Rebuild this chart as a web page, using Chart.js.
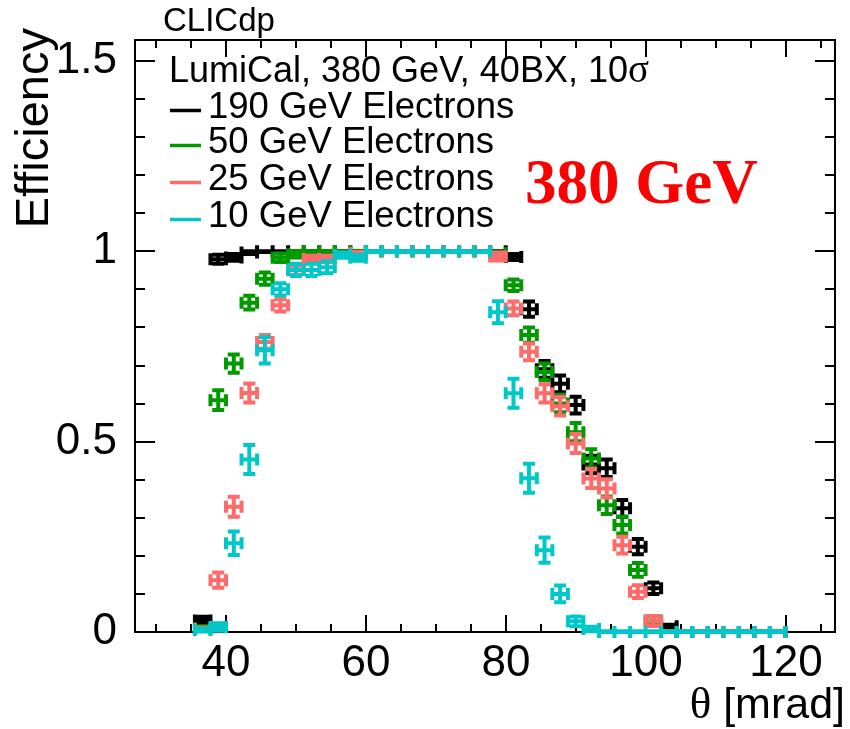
<!DOCTYPE html>
<html>
<head>
<meta charset="utf-8">
<title>LumiCal electron efficiency</title>
<script src="https://cdn.jsdelivr.net/npm/chart.js@4.4.3/dist/chart.umd.min.js"></script>
<style>
  html, body { margin: 0; padding: 0; background: #fff; }
  #wrap { width: 850px; height: 729px; position: relative; }
</style>
</head>
<body>
<div id="wrap"><canvas id="eff"></canvas></div>
<script>
// theta bin centres [mrad], bin width 2.22 mrad
const thetaBins = [36.67, 38.89, 41.11, 43.33, 45.55, 47.77, 49.99, 52.21, 54.43, 56.65,
  58.87, 61.09, 63.31, 65.53, 67.75, 69.97, 72.19, 74.41, 76.63, 78.85,
  81.07, 83.29, 85.51, 87.73, 89.95, 92.17, 94.39, 96.61, 98.83, 101.05,
  103.27, 105.49, 107.71, 109.93, 112.15, 114.37, 116.59, 118.81];
const BIN_HALF = 1.11;

const eff190 = [0.03, 0.979, 0.984, 0.997, 1, 1, 1, 1, 1, 1,
  1, 1, 1, 1, 1, 1, 1, 1, 1, 1,
  0.985, 0.848, 0.69, 0.652, 0.596, 0.44, 0.43, 0.325, 0.224, 0.115,
  0.015, 0, 0, 0, 0, 0, 0, 0];
const err190 = [0.01, 0.012, 0.009, 0.004, 0.002, 0.002, 0.002, 0.002, 0.002, 0.002,
  0.002, 0.002, 0.002, 0.002, 0.002, 0.002, 0.002, 0.002, 0.002, 0.002,
  0.008, 0.02, 0.022, 0.022, 0.022, 0.023, 0.023, 0.022, 0.02, 0.015,
  0.004, 0.002, 0.002, 0.002, 0.002, 0.002, 0.002, 0.002];

const eff50 = [0.01, 0.609, 0.705, 0.865, 0.928, 0.983, 0.992, 1, 1, 1,
  1, 1, 1, 1, 1, 1, 1, 1, 1, 0.995,
  0.911, 0.78, 0.683, 0.6, 0.525, 0.456, 0.333, 0.281, 0.163, 0.03,
  0, 0, 0, 0, 0, 0, 0, 0];
const err50 = [0.005, 0.026, 0.024, 0.018, 0.016, 0.011, 0.008, 0.002, 0.002, 0.002,
  0.002, 0.002, 0.002, 0.002, 0.002, 0.002, 0.002, 0.002, 0.002, 0.004,
  0.015, 0.02, 0.022, 0.023, 0.024, 0.024, 0.023, 0.022, 0.018, 0.012,
  0.002, 0.002, 0.002, 0.002, 0.002, 0.002, 0.002, 0.002];

const eff25 = [0.008, 0.136, 0.329, 0.628, 0.762, 0.858, 0.95, 0.98, 0.98, 0.99,
  0.995, 1, 1, 1, 1, 1, 1, 1, 1, 0.986,
  0.85, 0.736, 0.627, 0.593, 0.495, 0.403, 0.377, 0.228, 0.106, 0.029,
  0, 0, 0, 0, 0, 0, 0, 0];
const err25 = [0.004, 0.02, 0.026, 0.025, 0.018, 0.016, 0.012, 0.008, 0.008, 0.004,
  0.003, 0.002, 0.002, 0.002, 0.002, 0.002, 0.002, 0.002, 0.002, 0.01,
  0.018, 0.022, 0.024, 0.024, 0.025, 0.025, 0.024, 0.022, 0.017, 0.013,
  0.002, 0.002, 0.002, 0.002, 0.002, 0.002, 0.002, 0.002];

const eff10 = [0.005, 0.013, 0.233, 0.453, 0.74, 0.9, 0.951, 0.951, 0.958, 0.99,
  0.983, 1, 1, 1, 1, 1, 1, 1, 1, 0.84,
  0.627, 0.404, 0.215, 0.1, 0.028, 0.008, 0, 0, 0, 0,
  0, 0, 0, 0, 0, 0, 0, 0];
const err10 = [0.004, 0.01, 0.031, 0.038, 0.035, 0.016, 0.016, 0.016, 0.016, 0.007,
  0.008, 0.002, 0.002, 0.002, 0.002, 0.002, 0.002, 0.002, 0.002, 0.029,
  0.038, 0.038, 0.033, 0.022, 0.013, 0.006, 0.002, 0.002, 0.002, 0.002,
  0.002, 0.002, 0.002, 0.002, 0.002, 0.002, 0.002, 0.002];

const seriesLabels = ['190 GeV Electrons', '50 GeV Electrons', '25 GeV Electrons', '10 GeV Electrons'];
const seriesColors = ['#000000', '#009a00', '#ff6b6b', '#00c8c8'];
const seriesEff = [eff190, eff50, eff25, eff10];
const seriesErr = [err190, err50, err25, err10];

const xTickValues = [40, 60, 80, 100, 120];
const yTickValues = [0, 0.5, 1, 1.5];

const SANS = "'Liberation Sans', Arial, Helvetica, sans-serif";
const SERIF = "'Liberation Serif', 'Times New Roman', serif";

const datasets = seriesLabels.map((label, i) => ({
  label: label,
  data: thetaBins.map((t, j) => ({ x: t, y: seriesEff[i][j], err: seriesErr[i][j] })),
  borderColor: seriesColors[i],
  backgroundColor: seriesColors[i],
  pointRadius: 0,
  showLine: false
}));

// frame, inward ticks on all four sides
const rootFrame = {
  id: 'rootFrame',
  beforeDatasetsDraw(chart) {
    const { ctx, chartArea: a, scales: { x, y } } = chart;
    ctx.save();
    ctx.strokeStyle = '#000';
    ctx.lineWidth = 2;
    ctx.strokeRect(a.left, a.top, a.right - a.left, a.bottom - a.top);
    ctx.beginPath();
    for (let v = 30; v <= 125; v += 5) {
      const px = Math.round(x.getPixelForValue(v));
      const len = v % 20 === 0 ? 17 : 8;
      ctx.moveTo(px, a.bottom); ctx.lineTo(px, a.bottom - len);
      ctx.moveTo(px, a.top); ctx.lineTo(px, a.top + len);
    }
    for (let k = 0; k <= 15; k++) {
      const v = k / 10;
      const py = Math.round(y.getPixelForValue(v));
      const len = k % 5 === 0 ? 20 : 10;
      ctx.moveTo(a.left, py); ctx.lineTo(a.left + len, py);
      ctx.moveTo(a.right, py); ctx.lineTo(a.right - len, py);
    }
    ctx.stroke();
    ctx.restore();
  },
  afterDatasetsDraw(chart) {
    const { ctx, scales: { x, y } } = chart;
    const cap = 6;
    chart.data.datasets.forEach((ds, i) => {
      const meta = chart.getDatasetMeta(i);
      ctx.save();
      ctx.strokeStyle = ds.borderColor;
      ctx.lineWidth = 4;
      ctx.lineCap = 'butt';
      ctx.beginPath();
      ds.data.forEach((p, j) => {
        const el = meta.data[j];
        const px = el.x, py = el.y;
        const xl = x.getPixelForValue(p.x - BIN_HALF);
        const xr = x.getPixelForValue(p.x + BIN_HALF);
        const yl = y.getPixelForValue(Math.max(0, p.y - p.err));
        const yh = y.getPixelForValue(Math.min(1, p.y + p.err));
        // horizontal bar with end caps
        ctx.moveTo(xl, py); ctx.lineTo(xr, py);
        ctx.moveTo(xl, py - cap); ctx.lineTo(xl, py + cap);
        ctx.moveTo(xr, py - cap); ctx.lineTo(xr, py + cap);
        // vertical bar with end caps
        ctx.moveTo(px, yl); ctx.lineTo(px, yh);
        ctx.moveTo(px - cap, yl); ctx.lineTo(px + cap, yl);
        ctx.moveTo(px - cap, yh); ctx.lineTo(px + cap, yh);
      });
      ctx.stroke();
      ctx.restore();
    });
  },
  afterDraw(chart) {
    const { ctx } = chart;
    ctx.save();
    ctx.fillStyle = '#000';
    ctx.textBaseline = 'alphabetic';

    // axis titles
    ctx.save();
    ctx.translate(48, 28);
    ctx.rotate(-Math.PI / 2);
    ctx.textAlign = 'right';
    ctx.font = '47px ' + SANS;
    ctx.fillText('Efficiency', 0, 0);
    ctx.restore();

    ctx.textAlign = 'left';
    ctx.font = '43px ' + SANS;
    const unit = ' [mrad]';
    const wUnit = ctx.measureText(unit).width;
    ctx.fillText(unit, 845 - wUnit, 718);
    ctx.font = '45px ' + SERIF;
    const wTheta = ctx.measureText('θ').width;
    ctx.fillText('θ', 845 - wUnit - wTheta, 718);

    // CLICdp label
    ctx.font = '33px ' + SANS;
    ctx.fillText('CLICdp', 163, 31);

    // legend header
    ctx.font = '36px ' + SANS;
    const head = 'LumiCal, 380 GeV, 40BX, 10';
    ctx.fillText(head, 169, 82);
    const wHead = ctx.measureText(head).width;
    ctx.font = '39px ' + SERIF;
    ctx.fillText('σ', 169 + wHead, 82);

    // legend entries
    const baselines = [118, 153, 190, 227];
    chart.data.datasets.forEach((ds, i) => {
      const b = baselines[i];
      ctx.strokeStyle = ds.borderColor;
      ctx.lineWidth = 3.5;
      ctx.beginPath();
      ctx.moveTo(170, b - 7.5);
      ctx.lineTo(201, b - 7.5);
      ctx.stroke();
      ctx.fillStyle = '#000';
      ctx.font = '36.5px ' + SANS;
      ctx.fillText(ds.label, 208, b);
    });

    // energy tag
    ctx.fillStyle = '#ff0000';
    ctx.font = 'bold 63px ' + SERIF;
    ctx.fillText('380 GeV', 525, 203);
    ctx.restore();
  }
};

const tickFont = { family: SANS, size: 44, lineHeight: 1 };

new Chart(document.getElementById('eff'), {
  type: 'scatter',
  data: { datasets: datasets },
  options: {
    responsive: true,
    maintainAspectRatio: false,
    animation: false,
    devicePixelRatio: 1,
    layout: { padding: { left: 0, top: 40, right: 15, bottom: 0 } },
    plugins: {
      legend: { display: false },
      tooltip: { enabled: false }
    },
    scales: {
      x: {
        type: 'linear',
        min: 27,
        max: 127,
        grid: { display: false },
        border: { display: false },
        ticks: { font: tickFont, color: '#000', padding: 2, maxRotation: 0, autoSkip: false,
          callback: (v) => String(v) },
        afterBuildTicks: (s) => { s.ticks = xTickValues.map(v => ({ value: v })); },
        afterFit: (s) => { s.height = 97; }
      },
      y: {
        type: 'linear',
        min: 0,
        max: 1.555,
        grid: { display: false },
        border: { display: false },
        ticks: { font: tickFont, color: '#000', padding: 10, autoSkip: false,
          callback: (v) => String(v) },
        afterBuildTicks: (s) => { s.ticks = yTickValues.map(v => ({ value: v })); },
        afterFit: (s) => { s.width = 135; }
      }
    }
  },
  plugins: [rootFrame]
});
</script>
</body>
</html>
